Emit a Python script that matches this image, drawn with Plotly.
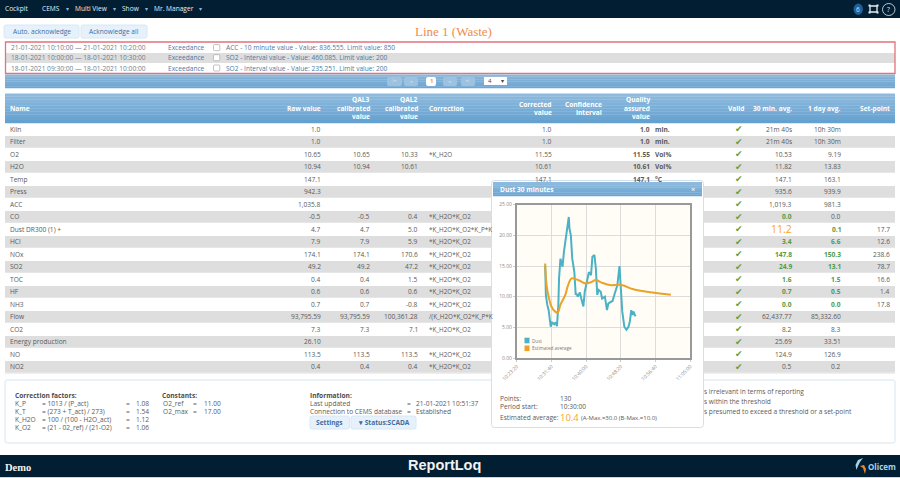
import plotly.graph_objects as go

W, H = 900, 478

# ---------- chart data ----------
DAY = "2021-01-21 "
dust_times = ["10:30:10","10:30:20","10:30:40","10:31:00","10:31:20","10:31:30","10:31:50","10:32:20","10:32:40","10:33:00",
              "10:33:20","10:33:30","10:33:50","10:34:10","10:34:20","10:34:40","10:35:00","10:35:20","10:35:30","10:35:50",
              "10:36:00","10:36:20","10:36:40","10:37:10","10:37:30","10:37:40","10:38:00","10:38:30","10:38:50","10:39:20",
              "10:39:40","10:40:10","10:40:40","10:41:10","10:41:30","10:42:00","10:42:20","10:42:40","10:43:00","10:43:30",
              "10:43:50","10:44:30","10:45:00","10:45:20","10:45:50","10:46:20","10:47:00","10:47:30","10:48:00","10:48:20",
              "10:48:40","10:49:10","10:49:40","10:50:10","10:50:30","10:50:50","10:51:10","10:51:20","10:51:50"]
dust_values = [15.1,10.3,8.7,7.8,6.0,5.1,5.8,5.5,5.8,5.2,
               8.7,13.0,16.2,15.0,14.9,17.3,19.2,20.6,21.6,23.0,
               21.1,20.0,16.2,14.0,10.3,10.5,10.0,10.7,9.7,8.4,
               10.8,12.4,14.0,13.5,16.5,16.8,14.6,10.3,11.1,10.8,
               9.7,10.0,7.8,8.9,9.1,9.3,10.8,11.9,15.0,11.4,
               7.6,5.1,4.6,5.1,6.0,7.8,7.0,7.6,6.8]
avg_times = ["10:30:10","10:30:30","10:31:00","10:31:40","10:32:30","10:33:10","10:33:50","10:35:00","10:35:40","10:36:30",
             "10:37:20","10:38:30","10:39:40","10:41:00","10:42:20","10:43:40","10:45:40","10:48:30","10:51:20","10:54:30",
             "10:57:40","11:00:20"]
avg_values = [15.4,11.9,10.0,8.4,7.6,7.4,8.7,10.3,11.9,13.0,
              12.9,12.6,12.2,12.3,12.7,12.3,11.9,11.9,11.2,10.8,
              10.5,10.3]
x_ticks = ["10:23:20","10:31:40","10:40:00","10:48:20","10:56:40","11:05:00"]
y_ticks = [0,5,10,15,20,25]
series_names = ["Dust","Estimated average"]

# ---------- table data ----------
names = ["Kiln","Filter","O2","H2O","Temp","Press","ACC","CO","Dust DR300 (1) +","HCl","NOx","SO2","TOC","HF","NH3","Flow","CO2","Energy production","NO","NO2"]
raw = ["1.0","1.0","10.65","10.94","147.1","942.3","1,035.8","-0.5","4.7","7.9","174.1","49.2","0.4","0.6","0.7","93,795.59","7.3","26.10","113.5","0.4"]
qal3 = ["","","10.65","10.94","","","","-0.5","4.7","7.9","174.1","49.2","0.4","0.6","0.7","93,795.59","7.3","","113.5","0.4"]
qal2 = ["","","10.33","10.61","","","","0.4","5.0","5.9","170.6","47.2","1.5","0.6","-0.8","100,361.28","7.1","","113.5","0.4"]
K2 = "*K_H2O*K_O2"
correction = ["","","*K_H2O","","","","",K2,"*K_H2O*K_O2*K_P*K",K2,K2,K2,K2,K2,K2,"/(K_H2O*K_O2*K_P*K",K2,"",K2,K2]
corrected = ["1.0","1.0","11.55","10.61","147.1"]
qa_value = ["1.0","1.0","11.55","10.61","147.1"]
units = ["min.","min.","Vol%","Vol%","°C"]
avg30 = ["21m 40s","21m 40s","10.53","11.82","147.1","935.6","1,019.3","0.0","11.2","3.4","147.8","24.9","1.6","0.7","0.0","62,437.77","8.2","25.69","124.9","0.5"]
avg1d = ["10h 30m","10h 30m","9.19","13.83","163.1","939.9","981.3","0.0","0.1","6.6","150.3","13.1","1.5","0.5","0.0","85,332.60","8.3","33.51","126.9","0.2"]
setpoint = ["","","","","","","","","17.7","12.6","238.6","78.7","16.6","1.4","17.8","","","","",""]
avg30_green = {"CO","HCl","NOx","SO2","TOC","HF","NH3"}
avg1d_green = {"Dust DR300 (1) +","HCl","NOx","SO2","TOC","HF","NH3"}

alerts = [("21-01-2021 10:10:00 — 21-01-2021 10:20:00","Exceedance","ACC - 10 minute value - Value: 836.555. Limit value: 850"),
          ("18-01-2021 10:00:00 — 18-01-2021 10:30:00","Exceedance","SO2 - Interval value - Value: 460.085. Limit value: 200"),
          ("18-01-2021 09:30:00 — 18-01-2021 10:00:00","Exceedance","SO2 - Interval value - Value: 235.251. Limit value: 200")]
nav_items = ["Cockpit","CEMS","Multi View","Show","Mr. Manager"]

# ---------- colours / fonts ----------
NAVY = "#011e33"; TXT = "#5a5a5a"; BLUE_T = "#4a7aa8"; GREY_ROW = "#dedede"
DUST_C = "#4bb2c5"; AVG_C = "#eaa228"; GREEN = "#4f9a45"; ORANGE = "#f5a623"
FONT = "Open Sans"; FS = 6.6

shapes, annos = [], []
fx = lambda x: x / W
fy = lambda y: 1 - y / H

def rect(x0, y0, x1, y1, fill=None, line=None, lw=1):
    shapes.append(dict(type="rect", xref="paper", yref="paper", x0=fx(x0), x1=fx(x1), y0=fy(y1), y1=fy(y0),
                       fillcolor=fill or "rgba(0,0,0,0)", line=dict(color=line or "rgba(0,0,0,0)", width=lw if line else 0),
                       layer="below"))

def rrect(x0, y0, x1, y1, r=2, fill=None, line=None, lw=1):
    p = (f"M{fx(x0+r)},{fy(y0)} L{fx(x1-r)},{fy(y0)} Q{fx(x1)},{fy(y0)} {fx(x1)},{fy(y0+r)} "
         f"L{fx(x1)},{fy(y1-r)} Q{fx(x1)},{fy(y1)} {fx(x1-r)},{fy(y1)} L{fx(x0+r)},{fy(y1)} "
         f"Q{fx(x0)},{fy(y1)} {fx(x0)},{fy(y1-r)} L{fx(x0)},{fy(y0+r)} Q{fx(x0)},{fy(y0)} {fx(x0+r)},{fy(y0)} Z")
    shapes.append(dict(type="path", xref="paper", yref="paper", path=p, fillcolor=fill or "rgba(0,0,0,0)",
                       line=dict(color=line or "rgba(0,0,0,0)", width=lw if line else 0), layer="below"))

def gradient(x0, y0, x1, y1, top, bottom, n=8):
    c0 = [int(top[i:i+2], 16) for i in (1, 3, 5)]
    c1 = [int(bottom[i:i+2], 16) for i in (1, 3, 5)]
    for i in range(n):
        t = i / (n - 1)
        c = "rgb(%d,%d,%d)" % tuple(round(a + (b - a) * t) for a, b in zip(c0, c1))
        rect(x0, y0 + (y1 - y0) * i / n, x1, y0 + (y1 - y0) * (i + 1) / n + 0.3, fill=c)

def txt(x, y, s, anchor="left", size=FS, color=TXT, bold=False, font=FONT):
    if s == "":
        return
    anchor = "center" if anchor == "middle" else anchor
    annos.append(dict(xref="paper", yref="paper", x=fx(x), y=fy(y), text=f"<b>{s}</b>" if bold else s,
                      showarrow=False, xanchor=anchor, yanchor="middle", borderpad=0, borderwidth=0,
                      font=dict(family=font, size=size, color=color), align=anchor))

def tri(x, y, color="#8fb8d8"):
    txt(x, y, "▾", "middle", 6, color, font="DejaVu Sans")

# ---------- page chrome ----------
rect(0, 0, W, H, fill="#ffffff")
rect(0, 0, W, 18, fill=NAVY)
for s, x in zip(nav_items, [5, 42, 75, 122, 154]):
    txt(x, 8.6, s, color="#e6eef4", size=6.6)
for x in [67, 114, 146, 200]:
    tri(x, 8.6)
shapes.append(dict(type="circle", xref="paper", yref="paper", x0=fx(853.5), x1=fx(863), y0=fy(15), y1=fy(3.5),
                   fillcolor="#1f5f98", line=dict(width=0), layer="below"))
txt(858.2, 9.5, "6", "middle", 6.5, "#cfe3f4")
rect(870, 6, 877, 12, line="#e8eef2", lw=1.3)
for cx, cy in [(869.5, 5.5), (877.5, 5.5), (869.5, 12.5), (877.5, 12.5)]:
    rect(cx - 1, cy - 1, cx + 1, cy + 1, fill="#e8eef2")
shapes.append(dict(type="circle", xref="paper", yref="paper", x0=fx(882.5), x1=fx(895), y0=fy(15.5), y1=fy(3.5),
                   fillcolor=NAVY, line=dict(color="#e8eef2", width=0.8), layer="below"))
txt(888.8, 9.6, "?", "middle", 6.5, "#e8eef2")

rrect(4, 25, 79, 38, fill="#e6f1fb", line="#d8e8f6")
txt(41.5, 31.5, "Auto. acknowledge", "middle", 6.6, "#3f6c9b", font=FONT)
rrect(81, 25, 147, 38, fill="#e6f1fb", line="#d8e8f6")
txt(114, 31.5, "Acknowledge all", "middle", 6.6, "#3f6c9b", font=FONT)
txt(415, 31.5, "Line 1 (Waste)", "left", 13, "#ee8d4d", font="Liberation Serif")

# alert panel
rect(5, 53, 895, 63, fill=GREY_ROW)
rect(5.5, 42, 895, 73.5, line="#e2727c", lw=1.3)
for (when, kind, msg), y in zip(alerts, [47.6, 57.7, 68]):
    txt(11, y, when, color="#6b7f93")
    txt(167.7, y, kind, color=BLUE_T)
    rrect(213.5, y - 3, 219.8, y + 3, r=1, fill="#ffffff", line="#9a9a9a", lw=0.6)
    txt(226, y, msg, color=BLUE_T)
gradient(5, 74.5, 895, 88, "#8ab6da", "#6ea6d2")
for x0, x1 in [(387, 402), (404, 418), (443, 457), (461, 475)]:
    rrect(x0, 77, x1, 86, fill="#9dc2df")
rrect(426, 77, 436, 86, fill="#ffffff")
txt(431, 81.5, "1", "middle", 6, ORANGE, True)
txt(394.5, 81.5, "|◂", "middle", 4.5, "#c9dced", font="DejaVu Sans")
txt(411, 81.5, "◂", "middle", 4.5, "#c9dced", font="DejaVu Sans")
txt(450, 81.5, "▸", "middle", 4.5, "#c9dced", font="DejaVu Sans")
txt(468, 81.5, "▸|", "middle", 4.5, "#c9dced", font="DejaVu Sans")
rect(484, 77, 507, 85, fill="#ffffff")
txt(488, 81, "4", size=6, color="#444444")
tri(502.5, 81, "#444444")

# ---------- table ----------
gradient(5, 93.5, 895, 123, "#8ebadd", "#65a1d0", n=10)
HW = "#ffffff"
COLS = dict(raw=321, q3=369.7, q2=418.3, corr=428.7, cv=552.3, ci=601.7, qa=650, unit=655.3,
            valid=739, a30=792, a1=840.7, sp=890)
txt(10, 108, "Name", color=HW, bold=True)
txt(COLS["raw"], 108, "Raw value", "right", color=HW, bold=True)
for c, t in [("q3", "QAL3"), ("q2", "QAL2")]:
    txt(COLS[c], 99.8, t, "right", color=HW, bold=True)
    txt(COLS[c], 108, "calibrated", "right", color=HW, bold=True)
    txt(COLS[c], 116.5, "value", "right", color=HW, bold=True)
txt(COLS["corr"], 108, "Correction", color=HW, bold=True)
txt(COLS["cv"], 104, "Corrected", "right", color=HW, bold=True)
txt(COLS["cv"], 112.5, "value", "right", color=HW, bold=True)
txt(COLS["ci"], 104, "Confidence", "right", color=HW, bold=True)
txt(COLS["ci"], 112.5, "interval", "right", color=HW, bold=True)
txt(COLS["qa"], 99.8, "Quality", "right", color=HW, bold=True)
txt(COLS["qa"], 108, "assured", "right", color=HW, bold=True)
txt(COLS["qa"], 116.5, "value", "right", color=HW, bold=True)
txt(743.5, 108, "Valid", "right", color=HW, bold=True)
txt(COLS["a30"], 108, "30 min. avg.", "right", color=HW, bold=True)
txt(COLS["a1"], 108, "1 day avg.", "right", color=HW, bold=True)
txt(COLS["sp"], 108, "Set-point", "right", color=HW, bold=True)

ROW0, ROWH = 123.1, 12.5
for i, nm in enumerate(names):
    top = ROW0 + i * ROWH
    cy = top + ROWH / 2 - 0.2
    if i % 2 == 1:
        rect(5, top + 0.4, 895, top + ROWH - 0.4, fill=GREY_ROW)
    txt(10, cy, nm)
    txt(COLS["raw"], cy, raw[i], "right")
    txt(COLS["q3"], cy, qal3[i], "right")
    txt(COLS["q2"], cy, qal2[i], "right")
    txt(COLS["corr"], cy, correction[i], size=6.3)
    if i < len(corrected):
        txt(COLS["cv"], cy, corrected[i], "right")
        txt(COLS["qa"], cy, qa_value[i], "right", bold=True)
        txt(COLS["unit"], cy, units[i], bold=True)
    txt(COLS["valid"], cy, "✔", "middle", 9, "#639c3c", font="DejaVu Sans")
    if nm.startswith("Dust"):
        txt(COLS["a30"], cy, avg30[i], "right", 10.5, ORANGE)
    elif nm in avg30_green:
        txt(COLS["a30"], cy, avg30[i], "right", color=GREEN, bold=True)
    else:
        txt(COLS["a30"], cy, avg30[i], "right")
    if nm in avg1d_green:
        txt(COLS["a1"], cy, avg1d[i], "right", color=GREEN, bold=True)
    else:
        txt(COLS["a1"], cy, avg1d[i], "right")
    txt(COLS["sp"], cy, setpoint[i], "right")
rect(5, 373.4, 895, 374, fill="#cfe2f2")

# ---------- footer panel ----------
rrect(5, 380, 895, 443, r=2, fill="#ffffff", line="#d6e6f3")
txt(14.5, 395, "Correction factors:", color="#4d4d4d", bold=True)
for y, a, b, c in [(403, "K_P", "= 1013 / (P_act)", "1.08"), (411, "K_T", "= (273 + T_act) / 273)", "1.54"),
                   (419.4, "K_H2O", "= 100 / (100 - H2O_act)", "1.12"), (427.4, "K_O2", "= (21 - 02_ref) / (21-O2)", "1.06")]:
    txt(14.5, y, a); txt(41.5, y, b); txt(126, y, "="); txt(136, y, c)
txt(162, 395, "Constants:", color="#4d4d4d", bold=True)
for y, a, c in [(403, "O2_ref", "11.00"), (411, "O2_max", "17.00")]:
    txt(162.5, y, a); txt(193, y, "="); txt(204, y, c)
txt(310, 395, "Information:", color="#4d4d4d", bold=True)
txt(310, 403, "Last updated"); txt(407, 403, "="); txt(416, 403, "21-01-2021 10:51:37")
txt(310, 411, "Connection to CEMS database"); txt(407, 411, "="); txt(416, 411, "Established")
rrect(310, 416, 349.5, 429, fill="#e6f1fb", line="#d8e8f6")
txt(329.7, 422.5, "Settings", "middle", 6.6, "#3f6c9b", True)
rrect(351, 416, 416, 429, fill="#e6f1fb", line="#d8e8f6")
txt(383.5, 422.5, "▾ Status:SCADA", "middle", 6.6, "#3f6c9b", True)
txt(704, 391, "s irrelevant in terms of reporting")
txt(704, 401.3, "s within the threshold")
txt(704, 411.5, "s presumed to exceed a threshold or a set-point")

# ---------- bottom bar ----------
rect(0, 455, W, 477, fill=NAVY)
rect(0, 477, W, 478, fill="#cfd6db")
txt(5, 467, "Demo", size=10.5, color="#f2f2f2", bold=True, font="Liberation Serif")
txt(444, 464.5, "ReportLoq", "middle", 14.5, "#f2f2f2", True, "Liberation Sans")
txt(867.5, 466, "Olicem", size=8, color="#a6d3ea", bold=True)
def logo(points, color):
    p = "M" + " L".join(f"{fx(a)},{fy(b)}" for a, b in points) + " Z"
    shapes.append(dict(type="path", xref="paper", yref="paper", path=p, fillcolor=color, line=dict(width=0), layer="below"))
logo([(863, 458), (858, 460), (855.5, 465), (856.5, 470), (858, 466), (860, 462)], "#a6d3ea")
logo([(860, 466), (863, 468), (865, 474), (866, 469), (864, 465)], "#e98a2a")

# ---------- popup ----------
rrect(491.5, 180.5, 703.5, 427.5, r=3, fill="#ffffff", line="#cfe1f0")
gradient(493, 182, 702, 196, "#8fbadc", "#6ba5d3")
txt(500, 189, "Dust 30 minutes", size=6.6, color="#ffffff", bold=True)
txt(693, 189, "×", "middle", 7.5, "#e4eef6", True)
txt(500, 398.7, "Points:"); txt(559.5, 398.7, "130")
txt(500, 406.5, "Period start:"); txt(559.5, 406.5, "10:30:00")
txt(500, 417.3, "Estimated average:")
txt(559.5, 417.6, "10.4", size=9.5, color=ORANGE, bold=False)
txt(581, 417.8, "(A-Max.=30.0 (B-Max.=10.0)", size=6)
PX0, PX1, PY0, PY1 = 516.7, 690.3, 204.7, 358
rect(PX0, PY0, PX1, PY1, fill="#fffdf6")
# legend drawn by hand at the reference's tight spacing
rect(523, 334, 571, 354, fill="#fffdf6")
for y, nm, col in zip([340.5, 348.3], series_names, [DUST_C, AVG_C]):
    rect(524.5, y - 2.8, 529.5, y + 2.8, fill=col)
    txt(531.5, y, nm, size=4.6, color="#777777")

fig = go.Figure()
fig.add_trace(go.Scatter(x=[DAY + t for t in dust_times], y=dust_values, mode="lines", name=series_names[0],
                         line=dict(color=DUST_C, width=2), showlegend=False, hoverinfo="x+y"))
fig.add_trace(go.Scatter(x=[DAY + t for t in avg_times], y=avg_values, mode="lines", name=series_names[1],
                         line=dict(color=AVG_C, width=2, shape="spline"), showlegend=False, hoverinfo="x+y"))
fig.update_layout(
    width=W, height=H, margin=dict(l=0, r=0, t=0, b=0, autoexpand=False), paper_bgcolor="#ffffff", plot_bgcolor="rgba(0,0,0,0)",
    showlegend=False, shapes=shapes, annotations=annos,
    xaxis=dict(domain=[fx(PX0), fx(PX1)], type="date", range=[DAY + x_ticks[0], DAY + x_ticks[-1]], automargin=False,
               tickmode="array", tickvals=[DAY + t for t in x_ticks], ticktext=x_ticks, tickangle=-45,
               tickfont=dict(family=FONT, size=5, color="#888888"), showgrid=True, gridcolor="#dcdcdc", gridwidth=1,
               showline=True, mirror=True, linecolor="#999999", linewidth=1.5, zeroline=False, ticks="outside",
               ticklen=2, tickcolor="#cccccc"),
    yaxis=dict(domain=[fy(PY1), fy(PY0)], range=[0, 25], automargin=False, tickmode="array", tickvals=y_ticks, tickformat=".2f",
               tickfont=dict(family=FONT, size=5, color="#888888"), showgrid=True, gridcolor="#dcdcdc", gridwidth=1,
               showline=True, mirror=True, linecolor="#999999", linewidth=1.5, zeroline=False, ticks="outside",
               ticklen=2, tickcolor="#cccccc"),
)
fig.write_html("out.html", config=dict(displayModeBar=False),
               post_script="document.body.style.margin='0';document.body.style.overflow='hidden';")
